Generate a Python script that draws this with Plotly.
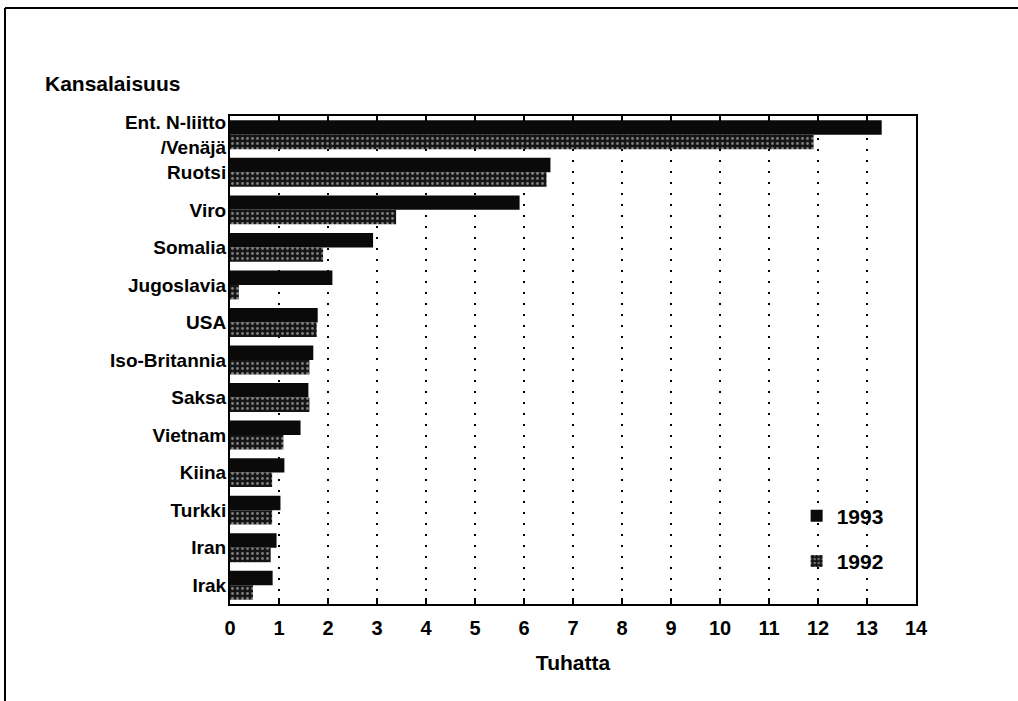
import plotly.graph_objects as go

categories = ["Ent. N-liitto<br>/Venäjä", "Ruotsi", "Viro", "Somalia", "Jugoslavia", "USA",
              "Iso-Britannia", "Saksa", "Vietnam", "Kiina", "Turkki", "Iran", "Irak"]
values_1993 = [13.3, 6.54, 5.91, 2.92, 2.09, 1.79, 1.70, 1.60, 1.44, 1.11, 1.03, 0.95, 0.87]
values_1992 = [11.91, 6.46, 3.39, 1.90, 0.18, 1.77, 1.62, 1.62, 1.09, 0.86, 0.86, 0.83, 0.47]
x_ticks = list(range(0, 15))

FONT = "Liberation Sans, Arial, Helvetica, sans-serif"

fig = go.Figure()
fig.add_trace(go.Bar(
    y=categories, x=values_1993, name="1993", orientation="h",
    marker=dict(color="#0a0a0a", line=dict(width=0)),
    legendgroup="a",
))
fig.add_trace(go.Bar(
    y=categories, x=values_1992, name="1992", orientation="h",
    marker=dict(color="#151515", line=dict(width=0),
                pattern=dict(shape=".", fgcolor="#e8e8e8", bgcolor="#151515",
                             size=5, solidity=0.25)),
    legendgroup="b",
))

fig.update_layout(
    width=1018, height=701,
    margin=dict(l=230, r=102, t=116, b=97),
    paper_bgcolor="white", plot_bgcolor="white",
    barmode="group", bargap=0.23, bargroupgap=0,
    font=dict(family=FONT, size=19, color="black", weight="bold"),
    showlegend=True,
    legend=dict(x=0.826, y=0.222, xanchor="left", yanchor="top",
                font=dict(size=21, family=FONT, weight="bold"),
                bgcolor="rgba(0,0,0,0)", tracegroupgap=15,
                traceorder="grouped", itemwidth=30),
    xaxis=dict(
        range=[0, 14], tickvals=x_ticks, ticktext=[str(t) for t in x_ticks],
        showgrid=True, gridcolor="black", gridwidth=2, griddash="2px,9px",
        showline=True, linecolor="black", linewidth=2, mirror="ticks",
        ticks="inside", ticklen=6, tickcolor="black", tickwidth=2,
        tickfont=dict(size=20, family=FONT, weight="bold"),
        ticklabelstandoff=5,
        zeroline=False,
        title=dict(text="Tuhatta", font=dict(size=21, family=FONT, weight="bold"), standoff=17),
    ),
    yaxis=dict(
        autorange="reversed", type="category",
        showline=True, linecolor="black", linewidth=2, mirror=True,
        ticks="", showgrid=False,
        tickfont=dict(size=19, family=FONT, weight="bold"),
        ticklabelstandoff=-2,
    ),
    shapes=[
        dict(type="line", xref="paper", yref="paper", x0=-0.328, x1=-0.328, y0=1.2213, y1=-0.2,
             line=dict(color="black", width=2)),
        dict(type="line", xref="paper", yref="paper", x0=-0.328, x1=1.15, y0=1.2213, y1=1.2213,
             line=dict(color="black", width=2)),
    ],
    annotations=[
        dict(text="Kansalaisuus", xref="paper", yref="paper", x=-0.2726, y=1.0676,
             xanchor="left", yanchor="middle", showarrow=False,
             font=dict(size=21, family=FONT, weight="bold")),
    ],
)

fig.write_html("out.html", config={"displayModeBar": False},
               post_script="document.body.style.margin='0';document.body.style.overflow='hidden';")
